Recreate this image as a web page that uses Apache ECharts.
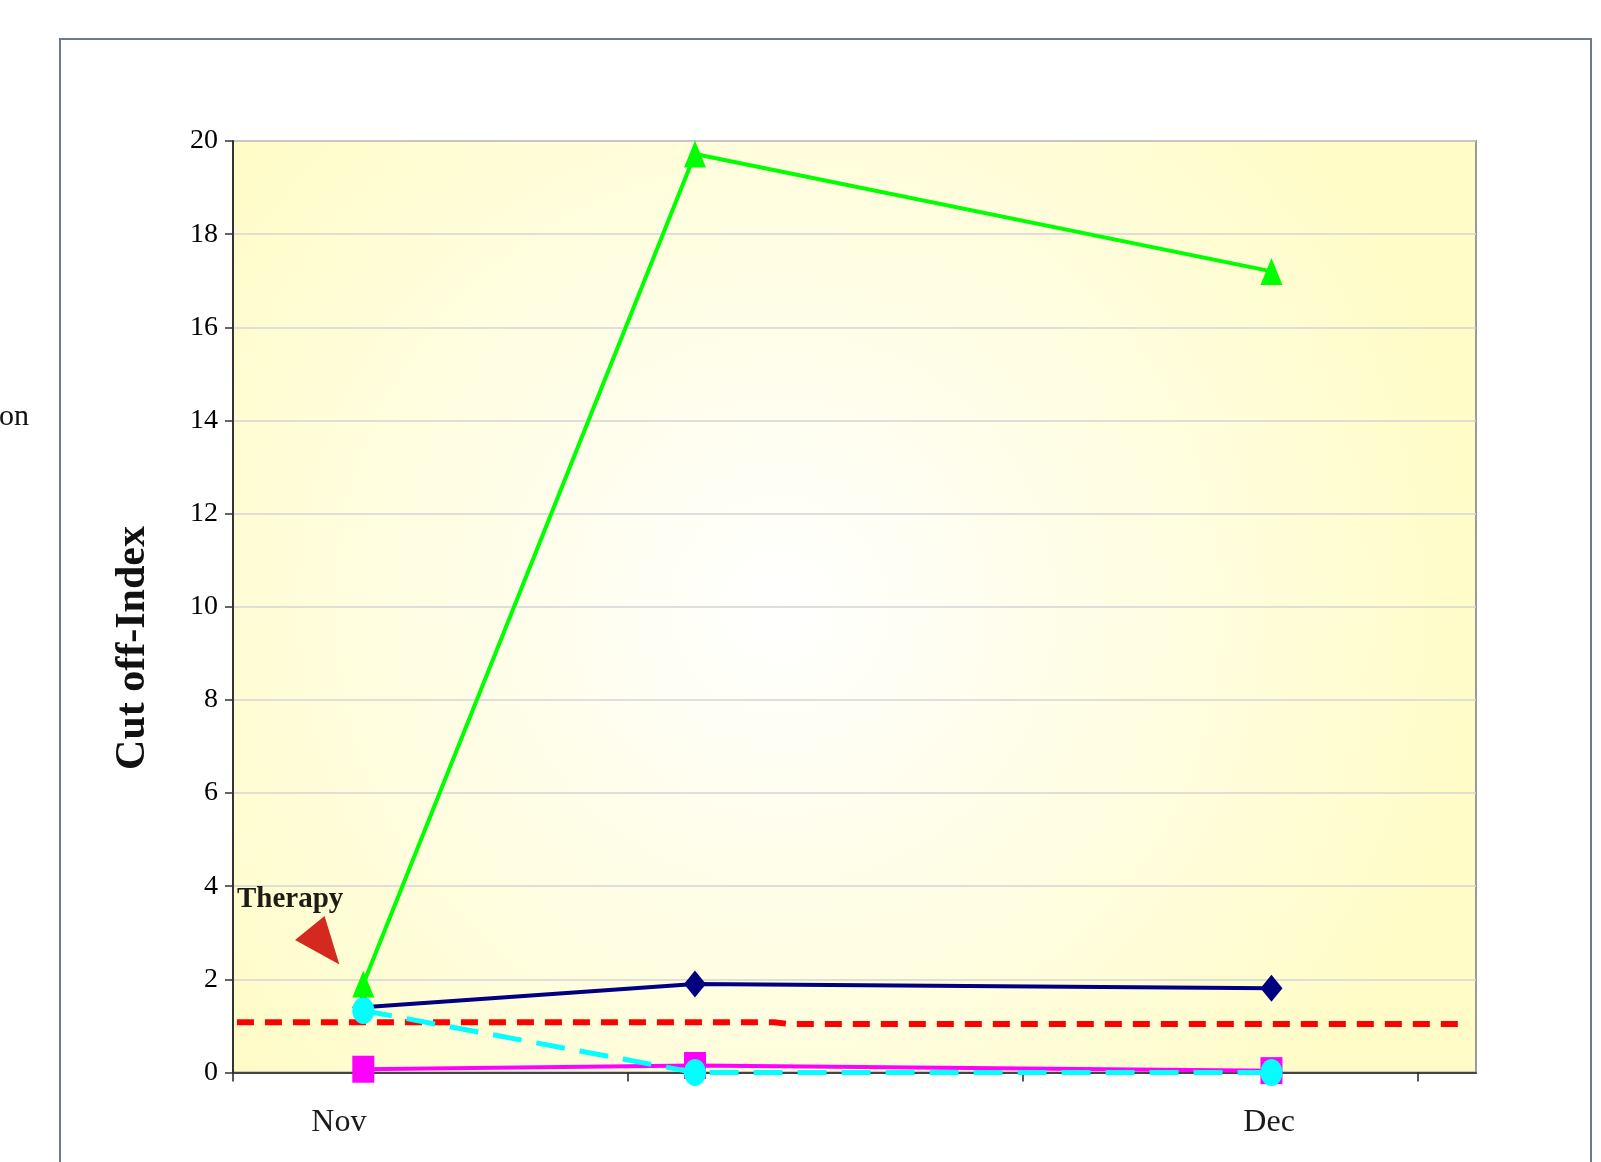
<!DOCTYPE html>
<html>
<head>
<meta charset="utf-8">
<script src="https://cdn.jsdelivr.net/npm/echarts@6/dist/echarts.min.js"></script>
<style>
  html, body { margin: 0; padding: 0; background: #ffffff; }
  #chart { width: 1601px; height: 1162px; }
</style>
</head>
<body>
<div id="chart"></div>
<script>
// Sampling times, in units of one axis tick
const sampleTimes = [0.33, 1.17, 2.63];

// Cut-off index per marker
const navyValues    = [1.40, 1.90, 1.81];
const magentaValues = [0.07, 0.15, 0.04];
const greenValues   = [1.90, 19.72, 17.20];
const cyanValues    = [1.33, 0.00, 0.00];

// Cut-off threshold line
const cutoffTimes  = [0.01, 1.37, 1.41, 3.13];
const cutoffValues = [1.08, 1.08, 1.04, 1.04];

// Axis ticks and month labels
const xTickTimes      = [0, 1, 2, 3];
const monthLabels     = ['Nov', 'Dec'];
const monthLabelTimes = [0.268, 2.624];
const yMin = 0, yMax = 20, yStep = 2;

// Therapy start annotation
const therapyText  = 'Therapy';
const therapyPoint = [0.232, 2.71];

const pairs = (xs, ys) => xs.map((x, i) => [x, ys[i]]);
const SERIF = '"Liberation Serif", "Times New Roman", serif';

const chart = echarts.init(document.getElementById('chart'), null, { renderer: 'canvas' });

const markerSize = [22, 27];

chart.setOption({
  animation: false,
  backgroundColor: '#ffffff',
  grid: {
    left: 233, top: 141, right: 125, bottom: 89.5,
    show: true,
    borderColor: '#9a9a9a',
    borderWidth: 2,
    backgroundColor: {
      type: 'radial', x: 0.44, y: 0.5, r: 0.75,
      colorStops: [
        { offset: 0, color: '#ffffff' },
        { offset: 1, color: '#fffcc8' }
      ]
    }
  },
  graphic: [
    {
      type: 'rect', z: -10, silent: true,
      shape: { x: 60, y: 39, width: 1531, height: 1140 },
      style: { fill: 'none', stroke: '#6e7794', lineWidth: 2 }
    },
    {
      type: 'text', silent: true, left: -1, top: 402,
      style: { text: 'on', font: '30px ' + SERIF, fill: '#111' }
    },
    {
      type: 'text', silent: true, x: 133, y: 648, rotation: Math.PI / 2,
      style: {
        text: 'Cut off-Index', font: 'bold 42px ' + SERIF, fill: '#111',
        align: 'center', verticalAlign: 'middle'
      }
    },
    {
      type: 'text', silent: true, left: 237, top: 885, z: 20,
      style: { text: therapyText, font: 'bold 29px ' + SERIF, fill: '#1e1a14' }
    }
  ],
  xAxis: {
    type: 'value',
    min: 0, max: 3.148,
    axisLine: { show: true, onZero: false, lineStyle: { color: '#444', width: 2 } },
    axisTick: { show: true, customValues: xTickTimes, length: 9, inside: false,
                lineStyle: { color: '#222', width: 1.5 } },
    axisLabel: {
      show: true, customValues: monthLabelTimes, margin: 34,
      color: '#1a1a1a', fontFamily: SERIF, fontSize: 32,
      formatter: function (v) {
        let best = 0;
        monthLabelTimes.forEach((t, i) => {
          if (Math.abs(t - v) < Math.abs(monthLabelTimes[best] - v)) best = i;
        });
        return monthLabels[best];
      }
    },
    splitLine: { show: false }
  },
  yAxis: {
    type: 'value',
    min: yMin, max: yMax, interval: yStep,
    axisLine: { show: true, lineStyle: { color: '#333', width: 2 } },
    axisTick: { show: true, length: 8, lineStyle: { color: '#333', width: 1.5 } },
    axisLabel: { color: '#000', fontFamily: SERIF, fontSize: 28, margin: 15 },
    splitLine: { show: true, lineStyle: { color: '#d4d4d4', width: 1.5 } }
  },
  series: [
    {
      name: 'Navy', type: 'line', z: 3,
      data: pairs(sampleTimes, navyValues),
      symbol: 'diamond', symbolSize: markerSize,
      lineStyle: { color: '#000080', width: 4 },
      itemStyle: { color: '#000080' }
    },
    {
      name: 'Magenta', type: 'line', z: 4,
      data: pairs(sampleTimes, magentaValues),
      symbol: 'rect', symbolSize: markerSize,
      lineStyle: { color: '#ff00ff', width: 4 },
      itemStyle: { color: '#ff00ff' }
    },
    {
      name: 'Cut-off', type: 'line', z: 5,
      data: pairs(cutoffTimes, cutoffValues),
      showSymbol: false, symbol: 'none',
      lineStyle: { color: '#ff0000', width: 6, type: [17, 11] },
      markPoint: {
        symbol: 'triangle', symbolSize: [38, 47], symbolRotate: -141,
        itemStyle: { color: '#d4291e' },
        label: { show: false },
        data: [{ coord: therapyPoint }]
      }
    },
    {
      name: 'Cyan', type: 'line', z: 6,
      data: pairs(sampleTimes, cyanValues),
      symbol: 'circle', symbolSize: markerSize,
      lineStyle: { color: '#00ffff', width: 5, type: [29, 15] },
      itemStyle: { color: '#00ffff' }
    },
    {
      name: 'Green', type: 'line', z: 7,
      data: pairs(sampleTimes, greenValues),
      symbol: 'triangle', symbolSize: markerSize,
      lineStyle: { color: '#00ff00', width: 4 },
      itemStyle: { color: '#00ff00' }
    }
  ]
});
</script>
</body>
</html>
